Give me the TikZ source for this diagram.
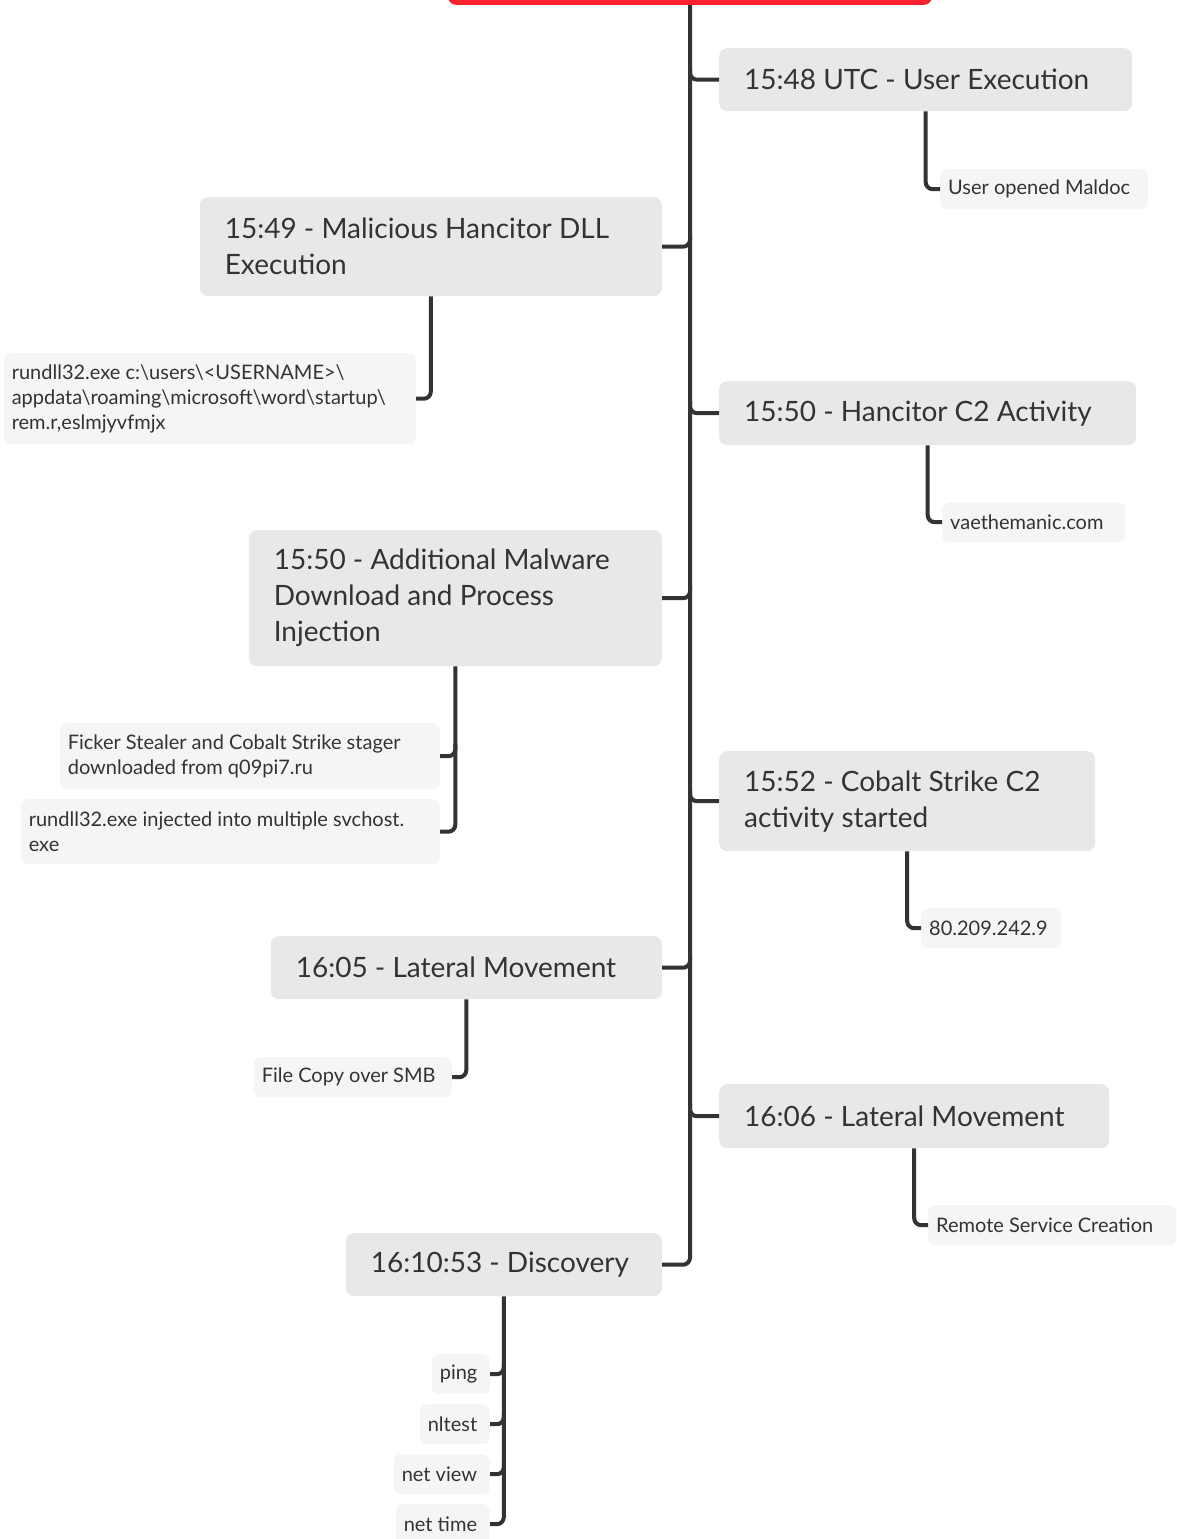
\documentclass[tikz,border=0pt]{standalone}
\usepackage{fontspec}
\setmainfont{Lato}
\usetikzlibrary{calc}
\definecolor{rootred}{HTML}{F9212F}
\definecolor{boxgray}{HTML}{E8E8E8}
\definecolor{leafgray}{HTML}{F5F5F5}
\definecolor{linegray}{HTML}{333333}
\newcommand\boxfont{\fontsize{28}{36}\selectfont}
\newcommand\leaffont{\fontsize{20}{25}\selectfont}
\begin{document}
\begin{tikzpicture}[x=1pt, y=-1pt,
    rootbox/.style ={fill=rootred, rounded corners=8pt, minimum width=484pt, minimum height=60pt, inner sep=0pt},
    event/.style ={fill=boxgray, text=linegray, rounded corners=8pt, inner xsep=25pt, inner ysep=0pt, align=flush left, font=\boxfont},
    detail/.style ={fill=leafgray, text=linegray, rounded corners=7pt, inner xsep=8pt, inner ysep=0pt, align=flush left, font=\leaffont, minimum height=40pt},
    conn/.style ={draw=linegray, line width=4pt, rounded corners=7pt}]
   \useasboundingbox (0,0) rectangle (1177,1539);

   \node[rootbox, anchor=south] (root) at (690,5) {};

   % events
   \node[event, anchor=north west, text width=363pt, minimum height=63pt] (ue) at (719,48) {15:48 UTC - User Execution};
   \node[event, anchor=north east, text width=412pt, minimum height=99pt] (dll) at (662,197) {15:49 - Malicious Hancitor DLL\\Execution};
   \node[event, anchor=north west, text width=367pt, minimum height=64pt] (c2) at (719,381) {15:50 - Hancitor C2 Activity};
   \node[event, anchor=north east, text width=363pt, minimum height=136pt] (dl) at (662,530) {15:50 - Additional Malware\\Download and Process\\Injection};
   \node[event, anchor=north west, text width=326pt, minimum height=100pt] (cs) at (719,751) {15:52 - Cobalt Strike C2\\activity started};
   \node[event, anchor=north east, text width=341pt, minimum height=63pt] (lm1) at (662,936) {16:05 - Lateral Movement};
   \node[event, anchor=north west, text width=340pt, minimum height=64pt] (lm2) at (719,1084) {16:06 - Lateral Movement};
   \node[event, anchor=north east, text width=266pt, minimum height=63pt] (disc) at (662,1233) {16:10:53 - Discovery};

   % details
   \node[detail, anchor=north west, text width=192pt] (um) at (940,169) {User opened Maldoc};
   \node[detail, anchor=north east, text width=396pt, minimum height=91pt] (rd) at (416,353) {rundll32.exe c:\textbackslash users\textbackslash <USERNAME>\textbackslash\\appdata\textbackslash roaming\textbackslash microsoft\textbackslash word\textbackslash startup\textbackslash\\rem.r,eslmjyvfmjx};
   \node[detail, anchor=north west, text width=167pt] (vm) at (942,502) {vaethemanic.com};
   \node[detail, anchor=north east, text width=364pt, minimum height=66pt] (fk) at (440,723) {Ficker Stealer and Cobalt Strike stager\\downloaded from q09pi7.ru};
   \node[detail, anchor=north east, text width=403pt, minimum height=65pt] (inj) at (440,799) {rundll32.exe injected into multiple svchost.\\exe};
   \node[detail, anchor=north west, text width=124pt] (ip) at (921,908) {80.209.242.9};
   \node[detail, anchor=north east, text width=182pt] (smb) at (452,1057) {File Copy over SMB};
   \node[detail, anchor=north west, text width=232pt] (rsc) at (928,1205) {Remote Service Creation};
   \node[detail, anchor=north east, text width=42pt] (ping) at (490,1354) {ping};
   \node[detail, anchor=north east, text width=54pt] (nlt) at (490,1404) {nltest};
   \node[detail, anchor=north east, text width=80pt] (nv) at (490,1454) {net view};
   \node[detail, anchor=north east, text width=78pt] (nt) at (490,1504) {net time};

   % spine and branches
   \draw[conn] (root.south) |- (disc.east);
   \foreach \ev in {ue, c2, cs, lm2}
      \draw[conn] ($(\ev.west -| root.south)+(0,-12)$) |- (\ev.west);
   \foreach \ev in {dll, dl, lm1}
      \draw[conn] ($(\ev.east -| root.south)+(0,-12)$) |- (\ev.east);

   \draw[conn] (ue.south) |- (um.west);
   \draw[conn] (dll.south) |- (rd.east);
   \draw[conn] (c2.south) |- (vm.west);
   \draw[conn] (dl.south) |- (inj.east);
   \draw[conn] ($(fk.east -| dl.south)+(0,-12)$) |- (fk.east);
   \draw[conn] (cs.south) |- (ip.west);
   \draw[conn] (lm1.south) |- (smb.east);
   \draw[conn] (lm2.south) |- (rsc.west);
   \draw[conn] (disc.south) |- (nt.east);
   \foreach \cmd in {ping, nlt, nv}
      \draw[conn] ($(\cmd.east -| disc.south)+(0,-12)$) |- (\cmd.east);
 \end{tikzpicture}
\end{document}
